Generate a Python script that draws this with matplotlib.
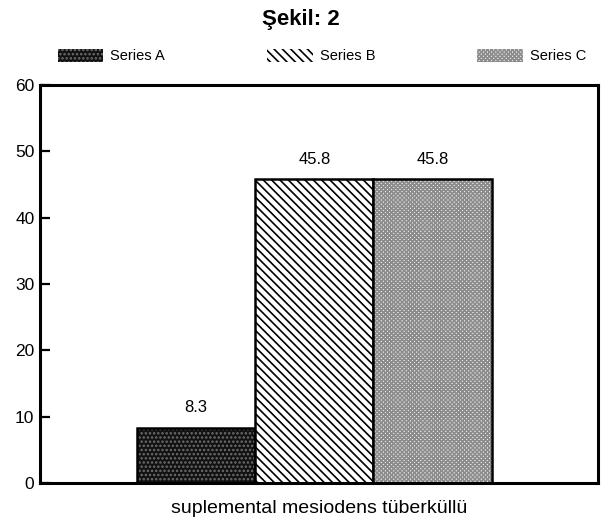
import matplotlib
matplotlib.use("Agg")
import matplotlib.pyplot as plt
from matplotlib.patches import Patch

# data
category = "suplemental mesiodens tüberküllü"
series = ["Series A", "Series B", "Series C"]
values = [8.3, 45.8, 45.8]
yticks = [0, 10, 20, 30, 40, 50, 60]

# fill styles for the three series (face, hatch, hatch colour)
faces = ["#111111", "white", "#f2f2f2"]
hatches = ["....", "\\" * 4, "x" * 8]
hatch_cols = ["#6e6e6e", "black", "#8c8c8c"]

plt.rcParams["font.family"] = ["Liberation Sans", "DejaVu Sans"]
plt.rcParams["hatch.linewidth"] = 1.2

fig = plt.figure(figsize=(6.02, 5.23), dpi=100)
ax = fig.add_axes([40 / 602, 1 - 483 / 523, 558 / 602, 398 / 523])

xs = [-1, 0, 1]
for x, v, fc, h, hc in zip(xs, values, faces, hatches, hatch_cols):
    # hatch layer, then a plain black outline on top
    ax.bar(x, v, width=1.0, color=fc, hatch=h, edgecolor=hc, linewidth=0)
    ax.bar(x, v, width=1.0, fill=False, edgecolor="black", linewidth=1.8)

for x, v in zip(xs, values):
    ax.annotate(f"{v:.1f}", (x, v), xytext=(0, 9), textcoords="offset points",
                ha="center", va="bottom", fontsize=12)

ax.set_xlim(-2.32, 2.40)
ax.set_ylim(0, 60)
ax.set_yticks(yticks)
ax.set_xticks([])
ax.tick_params(axis="y", direction="in", length=7, width=1.6, labelsize=12.5, pad=4)
for s in ax.spines.values():
    s.set_linewidth(2.2)
ax.set_xlabel(category, fontsize=14, labelpad=12)

fig.suptitle("Şekil: 2", x=0.5, y=1 - 20 / 523, va="center",
             fontsize=16, fontweight="bold")

handles = [Patch(facecolor=fc, hatch=h, edgecolor=hc, linewidth=0)
           for fc, h, hc in zip(faces, hatches, hatch_cols)]
fig.legend(handles, series, loc="center left",
           bbox_to_anchor=(58 / 602, 1 - 56 / 523), ncol=3, frameon=False,
           fontsize=10.5, handlelength=3.1, handleheight=1.0,
           handletextpad=0.5, columnspacing=7.0, borderpad=0, borderaxespad=0)

fig.savefig("out.png", dpi=100)
